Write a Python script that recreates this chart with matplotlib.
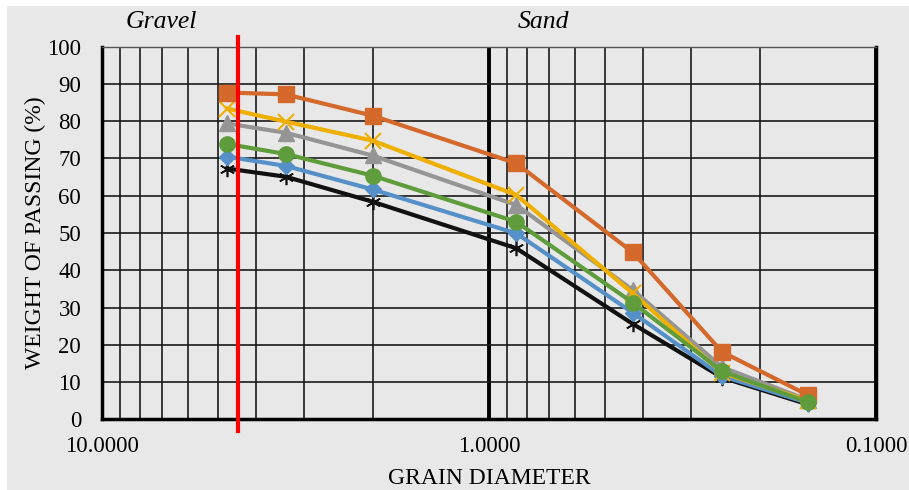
import matplotlib.pyplot as plt
from matplotlib.patches import Rectangle
from matplotlib.ticker import FixedLocator, NullFormatter

# sieve sizes (mm) and passing (%) for each mix
sizes = [4.75, 3.35, 2.0, 0.85, 0.425, 0.25, 0.15]
black_star = [67.3, 65.1, 58.4, 45.9, 25.6, 11.2, 4.0]
blue_diamond = [70.5, 68.0, 61.7, 49.9, 28.6, 11.6, 4.4]
green_circle = [73.9, 71.2, 65.4, 53.0, 31.3, 12.9, 4.6]
gray_triangle = [79.4, 76.9, 70.8, 57.5, 34.7, 14.0, 5.2]
yellow_x = [83.4, 79.9, 74.8, 60.2, 33.8, 12.5, 5.0]
orange_square = [87.7, 87.2, 81.5, 68.7, 44.8, 18.1, 6.5]
gravel_limit = 4.45

plt.rcParams['font.family'] = ['Liberation Serif', 'DejaVu Serif']

fig = plt.figure(figsize=(9.09, 4.90), dpi=100)
fig.patch.set_facecolor('white')
# gray chart area with a thin white margin on the top and left
fig.patches.append(Rectangle((7 / 909, 0), 1, 1 - 6 / 490, transform=fig.transFigure,
                             facecolor='#E8E8E8', edgecolor='none', zorder=-1))

ax = fig.add_axes([102 / 909, 1 - 419.3 / 490, (876 - 102) / 909, (419.3 - 46.7) / 490])
ax.set_facecolor('#E8E8E8')
ax.set_xscale('log')
ax.set_xlim(10, 0.1)
ax.set_ylim(0, 100)

# gridlines
minor = [m * d for d in (1, 0.1) for m in range(2, 10)]
ax.xaxis.set_minor_locator(FixedLocator(minor))
ax.xaxis.set_minor_formatter(NullFormatter())
ax.set_xticks([10, 1, 0.1])
ax.set_xticklabels(['10.0000', '1.0000', '0.1000'])
ax.set_yticks(range(0, 101, 10))
ax.grid(True, which='minor', axis='x', color='#1a1a1a', lw=1.2)
ax.grid(True, which='major', axis='x', color='black', lw=2.8)
ax.grid(True, which='major', axis='y', color='#1a1a1a', lw=1.2)
ax.tick_params(which='both', length=0, labelsize=16.5, colors='black')
ax.tick_params(axis='x', pad=12)
ax.tick_params(axis='y', pad=15)
ax.set_axisbelow(True)

for side in ('left', 'bottom', 'right'):
    ax.spines[side].set_linewidth(2.5)
    ax.spines[side].set_color('black')
ax.spines['top'].set_linewidth(1.0)
ax.spines['top'].set_color('#555555')

ms = 11
ax.plot(sizes, black_star, color='#111111', lw=3, marker=(6, 2, 0), ms=ms, mew=1.2, zorder=3)
ax.plot(sizes, blue_diamond, color='#5591C8', lw=3, marker='D', ms=8, zorder=3)
ax.plot(sizes, green_circle, color='#5E9C3C', lw=3, marker='o', ms=ms, zorder=7)
ax.plot(sizes, gray_triangle, color='#959595', lw=3, marker='^', ms=ms, zorder=4)
ax.plot(sizes, yellow_x, color='#EEAF00', lw=3, marker='x', ms=ms, mew=1.5, zorder=5)
ax.plot(sizes, orange_square, color='#D4692B', lw=3, marker='s', ms=ms, zorder=6)

# gravel / sand boundary
ax.plot([gravel_limit, gravel_limit], [-3.2, 102.7], color='#FF0000', lw=3,
        clip_on=False, zorder=8)

ax.set_xlabel('GRAIN DIAMETER', fontsize=17, labelpad=8)
ax.set_ylabel('WEIGHT OF PASSING (%)', fontsize=17, labelpad=1)

fig.text(161 / 909, 1 - 22 / 490, 'Gravel', fontsize=18.5, style='italic', ha='center', va='center')
fig.text(543 / 909, 1 - 22 / 490, 'Sand', fontsize=18.5, style='italic', ha='center', va='center')

fig.savefig('out.png', dpi=100, facecolor=fig.get_facecolor())
